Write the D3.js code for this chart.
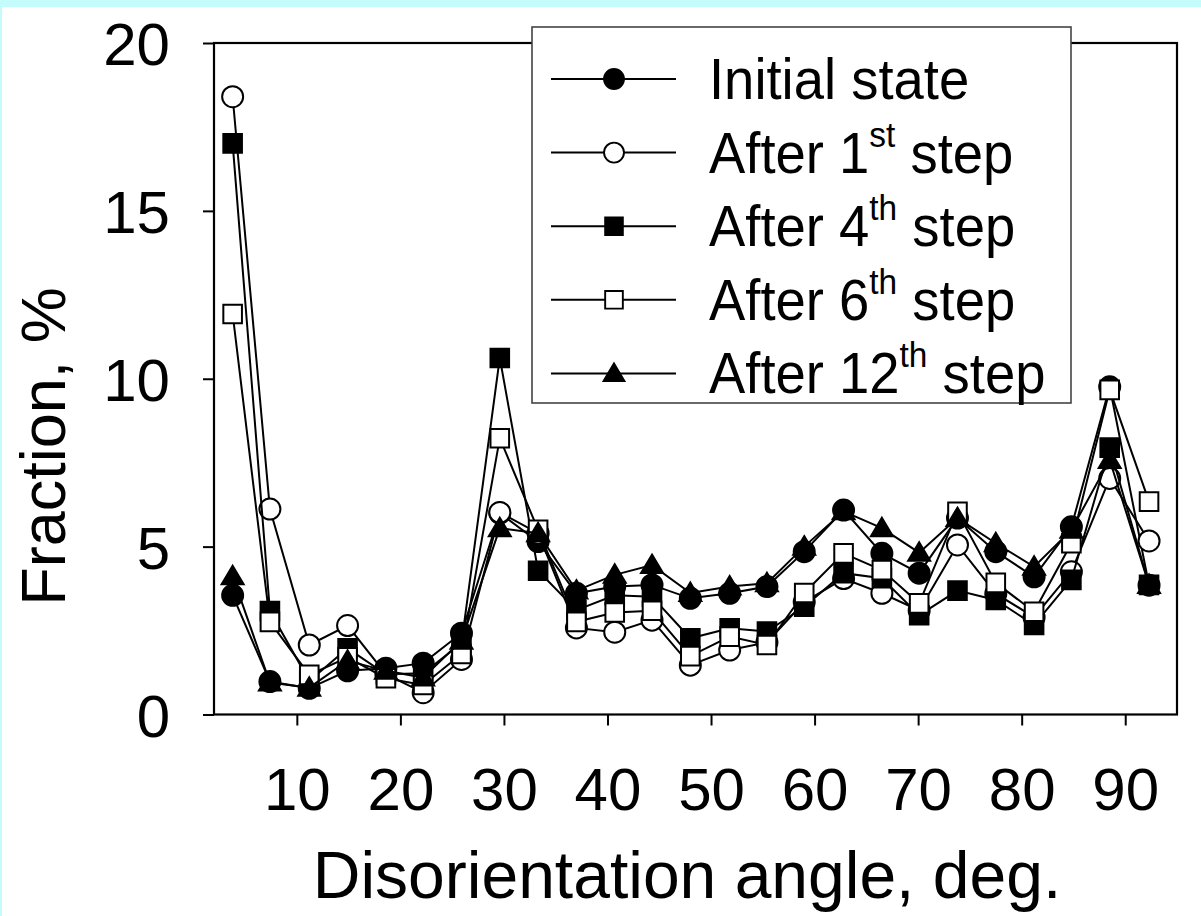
<!DOCTYPE html>
<html>
<head>
<meta charset="utf-8">
<script src="https://cdn.jsdelivr.net/npm/d3@7"></script>
<style>
  html, body { margin: 0; padding: 0; background: #c4fbfb; }
  svg { display: block; }
  text { font-family: "Liberation Sans", Arial, sans-serif; fill: #000; }
</style>
</head>
<body>
<svg id="chart" width="1201" height="916"></svg>
<script>
// ---- data ----
const angles = [3.8, 7.4, 11.2, 14.9, 18.6, 22.2, 25.9, 29.6, 33.3, 37.0, 40.7, 44.3, 48.0, 51.8, 55.4, 59.0, 62.8, 66.5, 70.1, 73.8, 77.5, 81.2, 84.8, 88.5, 92.3];
const initialState = [3.55, 0.98, 0.78, 1.30, 1.38, 1.53, 2.42, 6.0, 5.15, 3.61, 3.81, 3.86, 3.46, 3.61, 3.81, 4.85, 6.09, 4.80, 4.21, 5.85, 4.85, 4.10, 5.59, 9.76, 3.85];
const after1 = [18.4, 6.12, 2.07, 2.65, 1.2, 0.65, 1.64, 6.02, 5.4, 2.58, 2.45, 2.81, 1.47, 1.92, 2.15, 3.35, 4.05, 3.61, 3.1, 5.05, 3.6, 2.9, 4.25, 7.03, 5.17];
const after4 = [17.01, 3.08, 1.0, 1.97, 1.2, 1.23, 2.12, 10.62, 4.28, 3.11, 3.55, 3.51, 2.27, 2.57, 2.47, 3.21, 4.21, 4.06, 2.96, 3.69, 3.41, 2.67, 4.01, 7.95, 3.86];
const after6 = [11.93, 2.76, 1.18, 1.7, 1.08, 0.88, 1.80, 8.23, 5.50, 2.76, 3.04, 3.09, 1.74, 2.32, 2.07, 3.62, 4.80, 4.30, 3.31, 6.04, 3.92, 3.06, 5.10, 9.67, 6.34];
const after12 = [4.12, 0.95, 0.8, 1.60, 1.3, 1.1, 2.2, 5.55, 5.4, 3.69, 4.16, 4.45, 3.62, 3.81, 3.91, 5.0, 6.05, 5.55, 4.82, 5.85, 5.10, 4.40, 5.5, 7.58, 3.86];

const xTicks = [10, 20, 30, 40, 50, 60, 70, 80, 90];
const yTicks = [0, 5, 10, 15, 20];
const xDomain = [2, 95];
const yDomain = [0, 20];

const seriesNames = ["Initial state", "After 1", "After 4", "After 6", "After 12"];
const seriesSup = ["", "st", "th", "th", "th"];
const seriesValues = [initialState, after1, after4, after6, after12];
const seriesMarker = ["circleFilled", "circleOpen", "squareFilled", "squareOpen", "triangleFilled"];

const xLabel = "Disorientation angle, deg.";
const yLabel = "Fraction, %";

// ---- layout ----
const svg = d3.select("#chart");
svg.append("rect").attr("x", 2).attr("y", 7).attr("width", 1199).attr("height", 909).attr("fill", "#fff");

const L = 214, R = 1177, T = 43, B = 714.5;
const x = d3.scaleLinear().domain(xDomain).range([L, R]);
const y = d3.scaleLinear().domain(yDomain).range([B, T]);

// frame
svg.append("rect").attr("x", L).attr("y", T).attr("width", R - L).attr("height", B - T)
  .attr("fill", "none").attr("stroke", "#000").attr("stroke-width", 2.2);

// axes
const xAxis = d3.axisBottom(x).tickValues(xTicks).tickSize(11).tickPadding(40).tickFormat(d3.format("d"));
const gx = svg.append("g").attr("transform", `translate(0,${B})`).call(xAxis);
gx.select(".domain").remove();
gx.selectAll(".tick line").attr("stroke", "#000").attr("stroke-width", 2);
gx.selectAll(".tick text").attr("font-size", 60).attr("font-family", "Liberation Sans, Arial, sans-serif")
  .attr("dy", 0).attr("y", 95);

const yAxis = d3.axisLeft(y).tickValues(yTicks).tickSize(11).tickPadding(33).tickFormat(d3.format("d"));
const gy = svg.append("g").attr("transform", `translate(${L},0)`).call(yAxis);
gy.select(".domain").remove();
gy.selectAll(".tick line").attr("stroke", "#000").attr("stroke-width", 2);
gy.selectAll(".tick text").attr("font-size", 60).attr("font-family", "Liberation Sans, Arial, sans-serif")
  .attr("dy", 0).attr("y", 21.5).attr("x", -44);

// markers
function markerPath(kind) {
  if (kind.startsWith("circle")) {
    const r = 10.5;
    return `M${-r},0A${r},${r} 0 1,0 ${r},0A${r},${r} 0 1,0 ${-r},0Z`;
  }
  if (kind.startsWith("square")) {
    const s = 9.3;
    return `M${-s},${-s}H${s}V${s}H${-s}Z`;
  }
  // triangle
  return `M0,${-10.5}L${11},${8}L${-11},${8}Z`;
}
function markerFill(kind) { return kind.endsWith("Filled") ? "#000" : "#fff"; }

const line = d3.line().x((d, i) => x(angles[i])).y(d => y(d));

const plot = svg.append("g");
seriesValues.forEach((vals, si) => {
  const g = plot.append("g");
  g.append("path").datum(vals).attr("d", line).attr("fill", "none").attr("stroke", "#000").attr("stroke-width", 2);
  g.selectAll("path.m").data(vals).join("path").attr("class", "m")
    .attr("d", markerPath(seriesMarker[si]))
    .attr("transform", (d, i) => `translate(${x(angles[i])},${y(d)})`)
    .attr("fill", markerFill(seriesMarker[si])).attr("stroke", "#000").attr("stroke-width", 2);
});

// legend
const lg = svg.append("g");
lg.append("rect").attr("x", 532).attr("y", 27).attr("width", 539).attr("height", 376)
  .attr("fill", "#fff").attr("stroke", "#444").attr("stroke-width", 1.6);
const rowY = d => 79 + d * 73.6;
seriesNames.forEach((name, i) => {
  const yy = rowY(i);
  lg.append("line").attr("x1", 551).attr("x2", 676).attr("y1", yy).attr("y2", yy).attr("stroke", "#000").attr("stroke-width", 2);
  const k = seriesMarker[i];
  lg.append("path").attr("d", markerPath(k)).attr("transform", `translate(614,${yy}) scale(0.95)`)
    .attr("fill", markerFill(k)).attr("stroke", "#000").attr("stroke-width", 2);
  const t = lg.append("text").attr("transform", `translate(709,${yy + 20}) scale(0.955,1)`).attr("font-size", 57);
  t.append("tspan").text(name);
  if (seriesSup[i]) {
    t.append("tspan").attr("font-size", 35).attr("dy", -26).text(seriesSup[i]);
    t.append("tspan").attr("dy", 26).text(" step");
  }
});

// axis titles
svg.append("text").attr("x", 687).attr("y", 898).attr("text-anchor", "middle").attr("font-size", 66).text(xLabel);
svg.append("text").attr("transform", "translate(65,446.5) rotate(-90)").attr("text-anchor", "middle").attr("font-size", 63).text(yLabel);
</script>
</body>
</html>
